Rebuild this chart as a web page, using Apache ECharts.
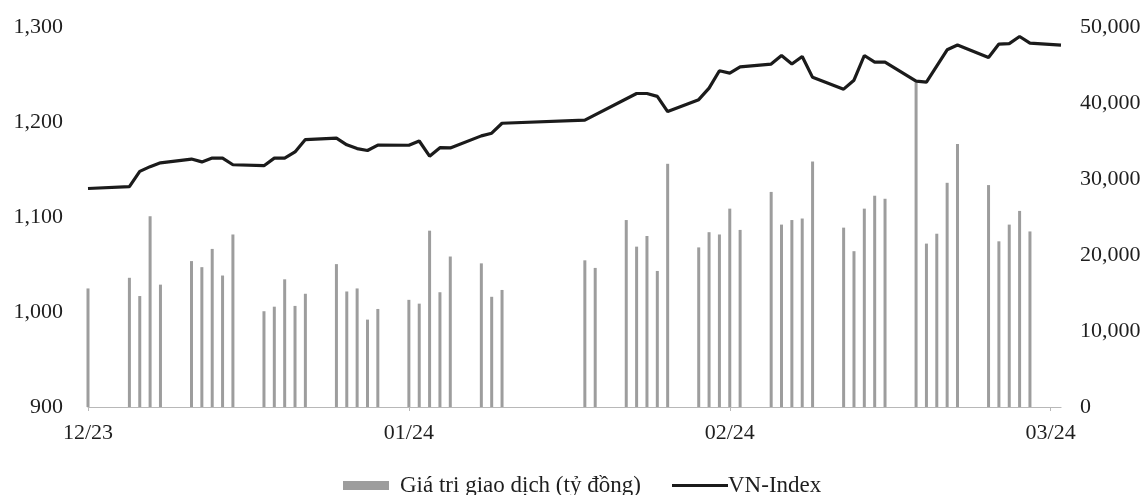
<!DOCTYPE html>
<html><head><meta charset="utf-8">
<script src="https://cdn.jsdelivr.net/npm/echarts@6/dist/echarts.min.js"></script>
<style>html,body{margin:0;padding:0;background:#fff}#c{width:1148px;height:495px}</style>
</head><body><div id="c"></div>
<script>
// Day offsets from the first day shown (12/23 tick = day 0)
const tickDays = [0, 31, 62, 93];
const tickLabels = ['12/23', '01/24', '02/24', '03/24'];

// Trading value bars (tỷ đồng), right axis
const barDays = [0, 4, 5, 6, 7, 10, 11, 12, 13, 14, 17, 18, 19, 20, 21, 24, 25, 26, 27, 28,
  31, 32, 33, 34, 35, 38, 39, 40, 48, 49, 52, 53, 54, 55, 56, 59, 60, 61, 62, 63,
  66, 67, 68, 69, 70, 73, 74, 75, 76, 77, 80, 81, 82, 83, 84, 87, 88, 89, 90, 91];
const barValues = [15600, 17000, 14600, 25100, 16100, 19200, 18400, 20800, 17300, 22700,
  12600, 13200, 16800, 13300, 14900, 18800, 15200, 15600, 11500, 12900,
  14100, 13600, 23200, 15100, 19800, 18900, 14500, 15400, 19300, 18300,
  24600, 21100, 22500, 17900, 32000, 21000, 23000, 22700, 26100, 23300,
  28300, 24000, 24600, 24800, 32300, 23600, 20500, 26100, 27800, 27400,
  42700, 21500, 22800, 29500, 34600, 29200, 21800, 24000, 25800, 23100];

// VN-Index line, left axis
const lineDays = [0, 4, 5, 6, 7, 10, 11, 12, 13, 14, 17, 18, 19, 20, 21, 24, 25, 26, 27, 28,
  31, 32, 33, 34, 35, 38, 39, 40, 48, 53, 54, 55, 56, 59, 60, 61, 62, 63,
  66, 67, 68, 69, 70, 73, 74, 75, 76, 77, 80, 81, 83, 84, 87, 88, 89, 90, 91, 94];
const lineValues = [1130, 1132, 1148, 1153, 1157, 1161, 1158, 1162, 1162, 1155,
  1154, 1162, 1162, 1168.5, 1181.5, 1183, 1176, 1172, 1170, 1175.7,
  1175.5, 1180, 1164, 1173, 1172.7, 1185.4, 1188.2, 1198.7, 1202, 1230, 1230, 1227, 1211,
  1223.5, 1235.6, 1253.9, 1251.5, 1258,
  1261, 1270, 1261, 1269, 1247, 1234.6, 1244, 1270, 1263, 1263,
  1243, 1242, 1276, 1281, 1268, 1282, 1282.5, 1290, 1283, 1281];

const FONT = 'Liberation Serif';
const TXT = '#1e1e1e';
const fmt = v => Number(v).toLocaleString('en-US');

const chart = echarts.init(document.getElementById('c'));
chart.setOption({
  animation: false,
  backgroundColor: '#fff',
  grid: { left: 88, right: 87, top: 27, bottom: 88, containLabel: false },
  xAxis: {
    type: 'value', min: 0, max: 94,
    splitLine: { show: false },
    axisLine: { show: true, lineStyle: { color: '#b8b8b8', width: 1.2 } },
    axisTick: { show: true, customValues: tickDays, length: 4, lineStyle: { color: '#b8b8b8' } },
    axisLabel: {
      customValues: tickDays,
      formatter: v => { const i = tickDays.indexOf(v); return i >= 0 ? tickLabels[i] : ''; },
      fontFamily: FONT, fontSize: 22, color: TXT, margin: 15
    }
  },
  yAxis: [
    {
      type: 'value', min: 900, max: 1300, interval: 100, position: 'left',
      splitLine: { show: false }, axisLine: { show: false }, axisTick: { show: false },
      axisLabel: { formatter: fmt, fontFamily: FONT, fontSize: 22, color: TXT, margin: 25 }
    },
    {
      type: 'value', min: 0, max: 50000, interval: 10000, position: 'right',
      splitLine: { show: false }, axisLine: { show: false }, axisTick: { show: false },
      axisLabel: { formatter: fmt, fontFamily: FONT, fontSize: 22, color: TXT, margin: 19 }
    }
  ],
  legend: [
    {
      data: ['Giá tri giao dịch (tỷ đồng)'], left: 338, top: 469,
      icon: 'rect', itemWidth: 46, itemHeight: 9,
      textStyle: { fontFamily: FONT, fontSize: 23, color: TXT, padding: [0, 0, 0, 6] }
    },
    {
      data: ['VN-Index'], left: 667, top: 469,
      icon: 'rect', itemWidth: 56, itemHeight: 3,
      textStyle: { fontFamily: FONT, fontSize: 23, color: TXT, padding: [0, 0, 0, -5] }
    }
  ],
  series: [
    {
      name: 'Giá tri giao dịch (tỷ đồng)', type: 'bar', yAxisIndex: 1,
      barWidth: 3,
      itemStyle: { color: '#9d9d9d' },
      data: barDays.map((d, i) => [d, barValues[i]])
    },
    {
      name: 'VN-Index', type: 'line', yAxisIndex: 0, z: 5,
      symbol: 'none',
      lineStyle: { color: '#1b1b1b', width: 3.2 },
      itemStyle: { color: '#1b1b1b' },
      data: lineDays.map((d, i) => [d, lineValues[i]])
    }
  ]
});
</script></body></html>
